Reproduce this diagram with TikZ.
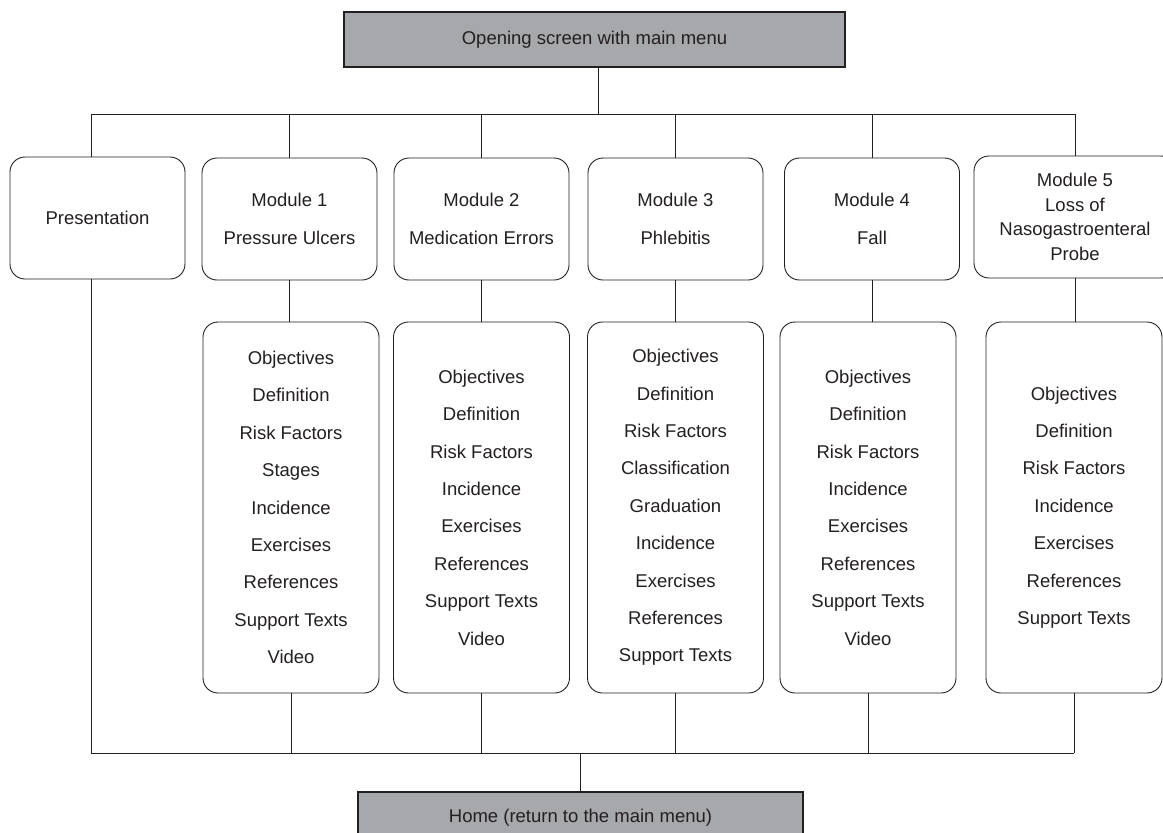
\documentclass[tikz,border=0pt]{standalone}
\usepackage{fontspec}
\setmainfont{Liberation Sans}
\definecolor{menugray}{RGB}{167,168,171}
\definecolor{ink}{RGB}{35,31,32}

\begin{document}
\begin{tikzpicture}%
    [x = 1pt, y = -1pt,
     every node/.style = {font=\fontsize{18.5}{37.4}\selectfont, text=ink, align=center, inner sep=0pt},
     menubox/.style = {draw=ink, line width=1.3pt, fill=menugray, minimum width=501pt, minimum height=55pt},
     modbox/.style = {draw=ink, line width=0.9pt, rounded corners=15pt, minimum width=175pt, minimum height=122pt},
     topicbox/.style = {draw=ink, line width=0.9pt, rounded corners=15pt, minimum width=176pt, minimum height=371pt},
     link/.style = {draw=ink, line width=0.8pt}]
    \useasboundingbox (0,0) rectangle (1163,833);

    \node [menubox] (open) at (594.5,39.5) {Opening screen with main menu};

    \node [modbox] (pres) at (97.5,218) {Presentation};
    \node [modbox] (mod1) at (289.5,219) {Module 1\\Pressure Ulcers};
    \node [modbox] (mod2) at (481.5,219) {Module 2\\Medication Errors};
    \node [modbox] (mod3) at (675.5,219) {Module 3\\Phlebitis};
    \node [modbox] (mod4) at (872,219) {Module 4\\Fall};
    \node [modbox, minimum width=202pt, font=\fontsize{18.5}{24.5}\selectfont] (mod5) at (1075,217)
        {Module 5\\Loss of\\Nasogastroenteral\\Probe};

    \node [topicbox] (top1) at (291,507.5)
        {Objectives\\Definition\\Risk Factors\\Stages\\Incidence\\Exercises\\References\\Support Texts\\Video};
    \node [topicbox] (top2) at (481.5,507.5)
        {Objectives\\Definition\\Risk Factors\\Incidence\\Exercises\\References\\Support Texts\\Video};
    \node [topicbox] (top3) at (675.5,507.5)
        {Objectives\\Definition\\Risk Factors\\Classification\\Graduation\\Incidence\\Exercises\\References\\Support Texts};
    \node [topicbox] (top4) at (868,507.5)
        {Objectives\\Definition\\Risk Factors\\Incidence\\Exercises\\References\\Support Texts\\Video};
    \node [topicbox] (top5) at (1074,507.5)
        {Objectives\\Definition\\Risk Factors\\Incidence\\Exercises\\References\\Support Texts};

    \node [menubox, minimum width=445pt, minimum height=52pt] (home) at (580.5,818) {Home (return to the main menu)};

    \coordinate (bustop) at (0,114);
    \coordinate (busbot) at (0,753);

    \draw [link] ([xshift=3.5]open.south) -- ([xshift=3.5]open.south |- bustop);
    \draw [link] ([xshift=-6]pres.north |- bustop) -- (mod5.north |- bustop);
    \draw [link] ([xshift=-6]pres.north) -- ([xshift=-6]pres.north |- bustop);
    \draw [link] (mod1.north) -- (mod1.north |- bustop);
    \draw [link] (mod2.north) -- (mod2.north |- bustop);
    \draw [link] (mod3.north) -- (mod3.north |- bustop);
    \draw [link] (mod4.north) -- (mod4.north |- bustop);
    \draw [link] (mod5.north) -- (mod5.north |- bustop);

    \draw [link] (mod1.south) -- (mod1.south |- top1.north);
    \draw [link] (mod2.south) -- (mod2.south |- top2.north);
    \draw [link] (mod3.south) -- (mod3.south |- top3.north);
    \draw [link] (mod4.south) -- (mod4.south |- top4.north);
    \draw [link] (mod5.south) -- (mod5.south |- top5.north);

    \draw [link] ([xshift=-6]pres.south) -- ([xshift=-6]pres.south |- busbot) -- (top5.south |- busbot);
    \draw [link] (top1.south) -- (top1.south |- busbot);
    \draw [link] (top2.south) -- (top2.south |- busbot);
    \draw [link] (top3.south) -- (top3.south |- busbot);
    \draw [link] (top4.south) -- (top4.south |- busbot);
    \draw [link] (top5.south) -- (top5.south |- busbot);
    \draw [link] (home.north) -- (home.north |- busbot);
\end{tikzpicture}
\end{document}
